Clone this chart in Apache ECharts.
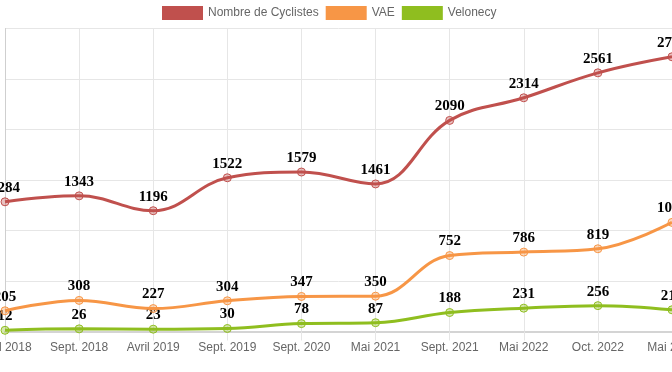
<!DOCTYPE html>
<html>
<head>
<meta charset="utf-8">
<script src="https://cdn.jsdelivr.net/npm/echarts@6/dist/echarts.min.js"></script>
<style>html,body{margin:0;padding:0;background:#fff}#c{width:672px;height:372px}</style>
</head>
<body>
<div id="c"></div>
<script>
const categories = ['Avril 2018','Sept. 2018','Avril 2019','Sept. 2019','Sept. 2020','Mai 2021','Sept. 2021','Mai 2022','Oct. 2022','Mai 2023'];
const cyclistes = [1284,1343,1196,1522,1579,1461,2090,2314,2561,2720];
const vae = [205,308,227,304,347,350,752,786,819,1080];
const velonecy = [12,26,23,30,78,87,188,231,256,215];
const yTicks = [0,500,1000,1500,2000,2500,3000];

const names = ['Nombre de Cyclistes','VAE','Velonecy'];
const colors = ['#c0504d','#f79646','#8fbe1f'];
const fills = ['rgba(192,80,77,0.35)','rgba(247,150,70,0.35)','rgba(143,190,31,0.35)'];
const datasets = [cyclistes, vae, velonecy];

const chart = echarts.init(document.getElementById('c'));
chart.setOption({
  animation:false,
  legend:{
    top:1, left:157, icon:'rect', itemWidth:41, itemHeight:14, itemGap:7,
    textStyle:{color:'#666', fontSize:12, fontFamily:'Liberation Sans, Arial'},
    data: names.map((n,i)=>({name:n, itemStyle:{color:colors[i], borderWidth:0}}))
  },
  grid:{left:5, right:0, top:28.5, bottom:40.5, containLabel:false, outerBoundsMode:'none'},
  xAxis:{
    type:'category', data:categories, boundaryGap:false,
    axisLine:{lineStyle:{color:'#d4d4d4', width:2}},
    axisTick:{show:true, length:9, lineStyle:{color:'#e6e6e6'}},
    axisLabel:{color:'#666', fontSize:12, fontFamily:'Liberation Sans, Arial', margin:10, interval:0},
    splitLine:{show:true, lineStyle:{color:'#e6e6e6'}}
  },
  yAxis:{
    type:'value', min:yTicks[0], max:yTicks[yTicks.length-1], interval:500,
    axisLine:{show:true, lineStyle:{color:'#cfcfcf'}},
    axisTick:{show:false},
    axisLabel:{show:false},
    splitLine:{lineStyle:{color:'#e6e6e6'}}
  },
  series: datasets.map((d,i)=>({
    name:names[i], type:'line', data:d, smooth:0.4,
    symbol:'circle', symbolSize:8,
    lineStyle:{color:colors[i], width:3},
    itemStyle:{color:fills[i], borderColor:colors[i], borderWidth:1},
    label:{show:true, position:'top', distance:2, color:'#000',
      fontFamily:'Liberation Serif, Times New Roman', fontWeight:'bold', fontSize:15},
    z: 3-i
  }))
});
</script>
</body>
</html>
